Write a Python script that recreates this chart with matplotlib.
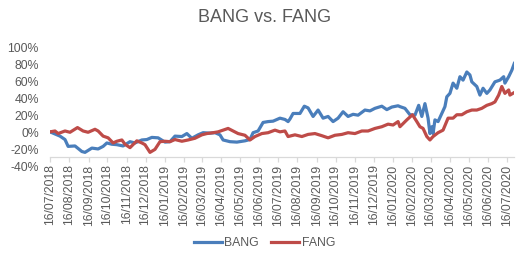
import matplotlib
matplotlib.use("Agg")
import matplotlib.pyplot as plt
from matplotlib.ticker import FuncFormatter
import pandas as pd

plt.rcParams['font.family'] = ['Liberation Sans', 'DejaVu Sans']

start_date = "2018-07-16"
tick_labels = [d.strftime("%d/%m/%Y") for d in pd.date_range("2018-07-01", "2020-07-01", freq="MS") + pd.Timedelta(days=15)]

# days since 16/07/2018 and cumulative return (%)
bang_days = [0, 16, 24, 29, 40, 51, 56, 67, 77, 85, 91, 99, 107, 117, 128, 136, 147, 155, 163, 173,
             184, 192, 200, 211, 219, 227, 237, 245, 256, 264, 272, 277, 288, 299, 312, 320, 325, 333,
             341, 349, 357, 368, 376, 381, 384, 389, 400, 407, 413, 421, 429, 437, 445, 453, 461, 469,
             477, 485, 493, 504, 512, 520, 531, 539, 547, 557, 560, 568, 576, 584, 590, 595, 600, 605,
             608, 611, 613, 616, 621, 627, 632, 635, 640, 645, 651, 656, 661, 667, 672, 675, 683, 688,
             693, 699, 704, 712, 720, 726, 728, 734, 739, 743]
bang_vals = [1, -4, -8, -16, -15.5, -22, -23, -18, -19, -16, -12, -13.5, -14, -15.5, -10.5, -12, -8.5, -8, -5.5, -6,
             -11, -10.5, -4, -4.5, -1, -6.5, -2.5, 0, -0.5, 0, -2.5, -8.5, -10.5, -11, -9.5, -8, 0, 2,
             12, 13, 13.5, 17, 15.5, 13, 16, 22.5, 22.5, 31, 29, 19, 26.5, 17, 19, 13, 17, 24.5,
             19, 21.5, 20.5, 26.5, 25.5, 28.5, 31, 27, 30, 31.5, 30.5, 28.5, 21, 20.5, 32, 19, 34, 17,
             -1, 7, -1, 15, 13, 22.5, 30.5, 42, 46, 58, 52, 65.5, 61.5, 71, 67.5, 59.5, 54, 44,
             52, 46, 50, 59.5, 61.5, 65.5, 58, 65.5, 73, 81]

fang_days = [0, 8, 13, 24, 32, 44, 53, 61, 72, 77, 85, 93, 101, 107, 115, 120, 128, 139, 147, 152,
             160, 168, 176, 184, 192, 200, 211, 221, 232, 243, 251, 261, 269, 277, 285, 293, 301, 312,
             320, 328, 339, 349, 360, 368, 376, 381, 392, 403, 413, 424, 435, 445, 456, 467, 477, 488,
             499, 509, 520, 531, 541, 549, 557, 560, 571, 580, 587, 592, 597, 603, 608, 613, 621, 629,
             637, 645, 651, 659, 667, 675, 683, 691, 699, 707, 712, 718, 723, 728, 734, 736, 743]
fang_vals = [1, 2, -1, 2, 0.5, 6, 2, 0.5, 4, 2, -4, -6, -12, -10, -8.5, -13.5, -17.5, -9.5, -12, -14,
             -23, -19.5, -10.5, -10, -10.5, -8, -10, -8.5, -6.5, -2.5, -1, 0, 1, 3, 5, 2, -1, -3,
             -8.5, -4.5, -1, 0, 3, 1, 2, -4.5, -2.5, -4.5, -2, -1, -3.5, -6, -3, -2, 0, -1,
             2, 2, 5, 7, 10, 9, 13, 7, 15, 21, 13, 7, 5, -4.5, -8.5, -4.5, 0, 3,
             17, 17, 21, 21, 24.5, 26.5, 26.5, 28.5, 32, 34, 36, 44, 54, 46, 50, 44, 47]

series = [("BANG", bang_days, bang_vals, "#4A7EBB"),
          ("FANG", fang_days, fang_vals, "#BE4B48")]

fig = plt.figure(figsize=(5.29, 2.62), dpi=100)
ax = fig.add_axes([50/529, 1 - 166.9/262, (514.3 - 50)/529, (166.9 - 47.2)/262])

for s in ['top', 'right', 'left']:
    ax.spines[s].set_visible(False)
ax.spines['bottom'].set_position(('data', -0.29))
ax.spines['bottom'].set_color('#D9D9D9')
ax.spines['bottom'].set_linewidth(0.9)

t0 = pd.Timestamp(start_date)
for name, days, vals, col in series:
    dates = [t0 + pd.Timedelta(days=d) for d in days]
    ax.plot(dates, [v / 100 for v in vals], color=col, lw=2.3, label=name, solid_joinstyle='round')

ax.set_ylim(-0.4, 1.0)
ax.set_yticks([-0.4, -0.2, 0, 0.2, 0.4, 0.6, 0.8, 1.0])
ax.yaxis.set_major_formatter(FuncFormatter(lambda v, p: f"{v*100:.0f}%"))
ax.set_xlim(t0, t0 + pd.Timedelta(days=743))
ticks = [pd.to_datetime(s, format="%d/%m/%Y") for s in tick_labels]
ax.set_xticks(ticks)
ax.set_xticklabels(tick_labels)
ax.tick_params(axis='x', colors='#D9D9D9', length=3.5, width=0.9, pad=1.5, labelcolor='#595959',
               labelsize=8.8, labelrotation=90)
ax.tick_params(axis='y', length=0, pad=8, labelcolor='#595959', labelsize=8.8)

fig.text(0.5, 1 - 18/262, "BANG vs. FANG", ha='center', va='center', fontsize=13, color='#595959')

leg = ax.legend(loc='center', bbox_to_anchor=(0.5, 1 - 243/262), bbox_transform=fig.transFigure,
                ncol=2, frameon=False, handlelength=2.3, handletextpad=0.2, columnspacing=1.0,
                fontsize=8.8)
for t in leg.get_texts():
    t.set_color('#595959')

fig.savefig("out.png", dpi=100)
